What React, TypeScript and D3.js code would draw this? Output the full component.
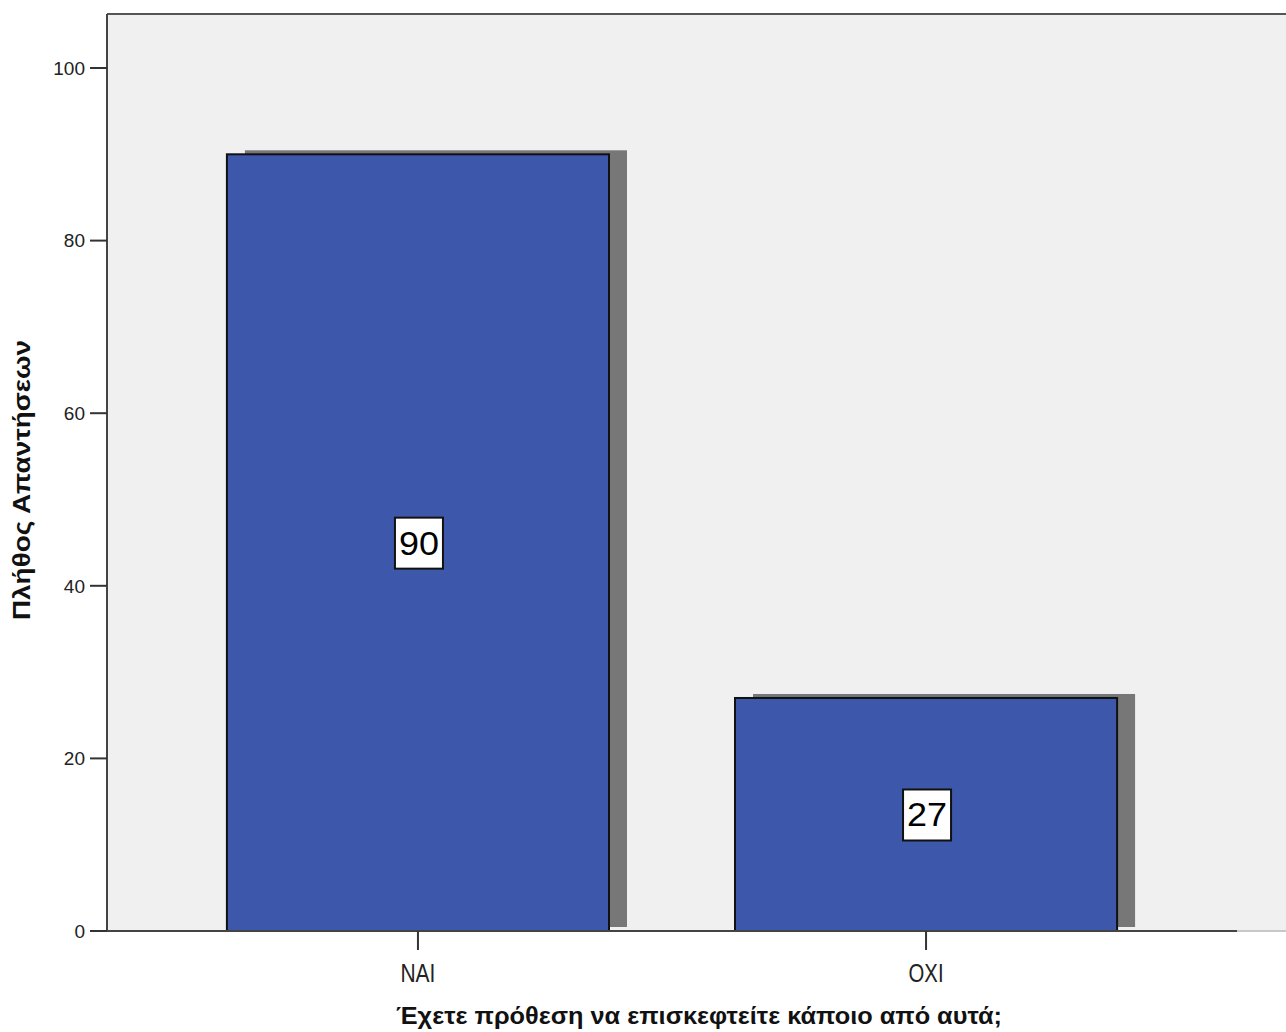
import React from "react";
import * as d3 from "d3";

const categories = ["ΝΑΙ", "ΟΧΙ"];
const counts = [90, 27];
const yTicks = [0, 20, 40, 60, 80, 100];
const yTitle = "Πλήθος Απαντήσεων";
const xTitle = "Έχετε πρόθεση να επισκεφτείτε κάποιο από αυτά;";

export default function App() {
  const W = 1286, H = 1032;
  const left = 107, right = 1237, top = 14, bottom = 931;
  const y = d3.scaleLinear().domain([0, 100]).range([bottom, 68]);
  const x = d3.scaleBand().domain(categories).range([left, right]).paddingInner(0.248).paddingOuter(0.236);
  const font = "'Liberation Sans', Arial, sans-serif";
  const narrow = "'Liberation Sans Narrow', 'Liberation Sans', Arial, sans-serif";
  return (
    <svg width={W} height={H} style={{ position: "absolute", left: 0, top: 0, background: "#fff" }}>
      <rect x={left} y={top} width={W - left} height={bottom - top} fill="#f0f0f0" />
      <line x1={left} x2={W} y1={top} y2={top} stroke="#555" strokeWidth={2} />
      {categories.map((c, i) => {
        const bx = x(c)!;
        const bw = x.bandwidth();
        const by = y(counts[i]);
        return (
          <g key={c}>
            <rect x={bx + 18} y={by - 4} width={bw} height={bottom - 4 - (by - 4)} fill="#777" />
            <rect x={bx} y={by} width={bw} height={bottom - by} fill="#3d58aa" stroke="#111" strokeWidth={2} />
          </g>
        );
      })}
      <line x1={left} x2={left} y1={top} y2={bottom} stroke="#444" strokeWidth={2} />
      <line x1={right} x2={W} y1={bottom} y2={bottom} stroke="#c8c8c8" strokeWidth={2} />
      <line x1={left} x2={right} y1={bottom} y2={bottom} stroke="#444" strokeWidth={2} />
      {yTicks.map(t => (
        <g key={t}>
          <line x1={left - 17} x2={left} y1={y(t)} y2={y(t)} stroke="#333" strokeWidth={2} />
          <text x={left - 22} y={y(t)} dy="0.36em" textAnchor="end" fontFamily={font} fontSize={19} fill="#222">{t}</text>
        </g>
      ))}
      {categories.map(c => {
        const cx = x(c)! + x.bandwidth() / 2;
        return (
          <g key={c}>
            <line x1={cx} x2={cx} y1={bottom} y2={bottom + 19} stroke="#333" strokeWidth={2} />
            <text x={cx} y={982} textAnchor="middle" fontFamily={narrow} fontSize={25} fill="#222"
              textLength={35} lengthAdjust="spacingAndGlyphs">{c}</text>
          </g>
        );
      })}
      {categories.map((c, i) => {
        const cx = x(c)! + x.bandwidth() / 2 + 1;
        const cy = y(counts[i] / 2);
        const label = String(counts[i]);
        return (
          <g key={c}>
            <rect x={cx - 24} y={cy - 25} width={48} height={51} fill="#fff" stroke="#111" strokeWidth={2} />
            <text x={cx} y={cy} dy="0.36em" textAnchor="middle" fontFamily={font} fontSize={33} fill="#000"
              textLength={40} lengthAdjust="spacingAndGlyphs">{label}</text>
          </g>
        );
      })}
      <text transform={`translate(30,480) rotate(-90)`} textAnchor="middle" fontFamily={narrow} fontWeight="bold" fontSize={24} fill="#111"
        textLength={280} lengthAdjust="spacingAndGlyphs">{yTitle}</text>
      <text x={699} y={1024} textAnchor="middle" fontFamily={narrow} fontWeight="bold" fontSize={24} fill="#111"
        textLength={606} lengthAdjust="spacingAndGlyphs">{xTitle}</text>
    </svg>
  );
}
